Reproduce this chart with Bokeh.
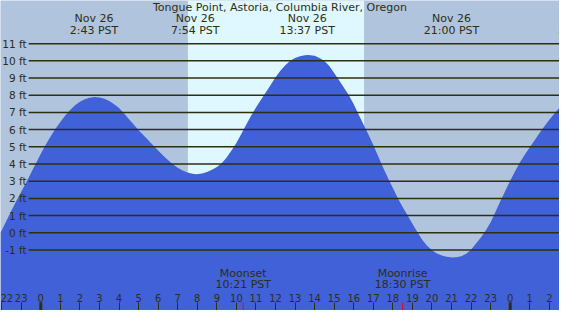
from bokeh.plotting import figure
from bokeh.models import Range1d, LinearAxis, FixedTicker
from bokeh.core.properties import value
from bokeh.embed import file_html
from bokeh.resources import INLINE

TITLE = "Tongue Point, Astoria, Columbia River, Oregon"

# tide height (ft), by hour of Nov 26 (PST)
tide_hours = [-2.06, -1.75, -1.50, -1.25, -1.00, -0.75, -0.50, -0.25, 0.00,
              0.25, 0.50, 0.75, 1.00, 1.25, 1.50, 1.75, 2.00, 2.25, 2.50, 2.74,
              3.00, 3.25, 3.50, 3.75, 4.00, 4.25, 4.50, 4.75, 5.00,
              5.25, 5.50, 5.75, 6.00, 6.25, 6.50, 6.75, 7.00, 7.25, 7.50, 7.75, 7.96,
              8.25, 8.50, 8.75, 9.00, 9.25, 9.50, 9.75, 10.00, 10.25, 10.50, 10.75,
              11.00, 11.25, 11.50, 11.75, 12.00, 12.25, 12.50, 12.75, 13.00, 13.25, 13.50, 13.68,
              14.00, 14.25, 14.50, 14.75, 15.00, 15.25, 15.50, 15.75, 16.00, 16.25, 16.50,
              16.75, 17.00, 17.25, 17.50, 17.75, 18.00, 18.25, 18.50, 18.75, 19.00, 19.25,
              19.50, 19.75, 20.00, 20.25, 20.50, 20.75, 21.05, 21.25, 21.50, 21.75,
              22.00, 22.25, 22.50, 22.75, 23.00, 23.25, 23.50, 23.75, 24.00,
              24.25, 24.50, 24.75, 25.00, 25.25, 25.50, 25.75, 26.00, 26.25, 26.52]
tide_ft = [0.00, 0.72, 1.30, 1.85, 2.38, 2.92, 3.48, 4.05, 4.60,
           5.12, 5.60, 6.05, 6.45, 6.82, 7.14, 7.42, 7.62, 7.77, 7.86, 7.90,
           7.87, 7.79, 7.66, 7.48, 7.26, 6.95, 6.62, 6.30, 5.97,
           5.67, 5.38, 5.08, 4.78, 4.50, 4.23, 3.98, 3.78, 3.62, 3.50, 3.43, 3.41,
           3.45, 3.53, 3.66, 3.83, 4.05, 4.38, 4.78, 5.22, 5.75, 6.28, 6.80,
           7.28, 7.72, 8.16, 8.60, 9.04, 9.42, 9.74, 10.00, 10.17, 10.27, 10.33, 10.34,
           10.29, 10.17, 9.99, 9.70, 9.30, 8.87, 8.43, 8.00, 7.47, 6.88, 6.30,
           5.72, 5.10, 4.45, 3.80, 3.18, 2.60, 2.03, 1.50, 1.02, 0.53, 0.05,
           -0.40, -0.75, -1.02, -1.20, -1.32, -1.40, -1.44, -1.43, -1.36, -1.22,
           -0.98, -0.62, -0.28, 0.13, 0.62, 1.22, 1.85, 2.45, 3.03,
           3.58, 4.10, 4.55, 4.97, 5.38, 5.80, 6.20, 6.57, 6.93, 7.27]

extreme_hours = [2.72, 7.90, 13.62, 21.00, 27.68]
extreme_dates = ["Nov 26", "Nov 26", "Nov 26", "Nov 26", "Nov 27"]
extreme_times = ["2:43 PST", "7:54 PST", "13:37 PST", "21:00 PST", "3:41 PST"]

moon_hours = [10.35, 18.50]
moon_events = ["Moonset", "Moonrise"]
moon_times = ["10:21 PST", "18:30 PST"]

sunrise_hour = 7.52
sunset_hour = 16.53

ft_levels = list(range(-1, 12))
hour_ticks = list(range(-2, 27))
hour_labels = [str(h % 24) for h in hour_ticks]
midnight_hours = [0, 24]

# layout / style
W, H = 559, 310
X0, X1 = -2.06, 26.52
Y0, Y1 = -4.52, 13.51
PX_Y = (Y1 - Y0) / H
LINE_X0 = -0.62
TITLE_Y, DATE_Y, TIME_Y = 13.12, 12.44, 11.76
MOON_Y, MOONT_Y = -2.36, -3.03

NIGHT = "#b0c4de"
DAY = "#dff8ff"
BLUE = "#4161d8"
INK = "#2e2e10"
FONT = value("DejaVu Sans")

p = figure(width=W, height=H, x_range=Range1d(X0, X1), y_range=Range1d(Y0, Y1),
           output_backend="svg", toolbar_location=None,
           x_axis_type=None, y_axis_type=None, min_border=0,
           outline_line_color=None, background_fill_color=NIGHT,
           border_fill_color=NIGHT)

p.quad(left=[sunrise_hour], right=[sunset_hour], bottom=[Y0], top=[Y1],
       fill_color=DAY, line_color=None)

p.varea(x=tide_hours, y1=[Y0] * len(tide_hours), y2=tide_ft, fill_color=BLUE)

p.segment(x0=[LINE_X0] * len(ft_levels), x1=[X1] * len(ft_levels),
          y0=ft_levels, y1=ft_levels, line_color=INK, line_width=1.5)

yax = LinearAxis(fixed_location=LINE_X0, ticker=FixedTicker(ticks=ft_levels),
                 major_label_overrides={v: f"{v} ft" for v in ft_levels},
                 axis_line_color=None, major_tick_line_color=None,
                 minor_tick_line_color=None, major_tick_in=0, major_tick_out=0,
                 major_label_standoff=2, major_label_text_font="DejaVu Sans",
                 major_label_text_font_size="10.5px", major_label_text_color=INK)
p.add_layout(yax, "left")

xax = LinearAxis(fixed_location=Y0, ticker=FixedTicker(ticks=hour_ticks),
                 major_label_overrides={h: s for h, s in zip(hour_ticks, hour_labels)},
                 axis_line_color=None, major_tick_line_color=INK,
                 major_tick_line_width=1, minor_tick_line_color=None,
                 major_tick_in=0, major_tick_out=8, major_label_standoff=1,
                 major_label_text_font="DejaVu Sans", major_label_text_font_size="10px",
                 major_label_text_color=INK)
p.add_layout(xax, "above")

p.segment(x0=midnight_hours, x1=midnight_hours, y0=[Y0] * 2, y1=[Y0 + 8 * PX_Y] * 2,
          line_color=INK, line_width=3)
p.segment(x0=moon_hours, x1=moon_hours, y0=[Y0] * 2, y1=[Y0 + 8 * PX_Y] * 2,
          line_color="#ff0000", line_width=1)

# the next day's extreme lies past the right edge; only its time row peeks in
n_vis = 4
txt = dict(text_font=FONT, text_font_size="11px", text_color=INK,
           text_align="center", text_baseline="middle")
p.text(x=[(X0 + X1) / 2], y=[TITLE_Y], text=[TITLE], **txt)
p.text(x=extreme_hours[:n_vis], y=[DATE_Y] * n_vis, text=extreme_dates[:n_vis], **txt)
p.text(x=extreme_hours, y=[TIME_Y] * len(extreme_hours), text=extreme_times, **txt)
p.text(x=moon_hours, y=[MOON_Y] * 2, text=moon_events, **txt)
p.text(x=moon_hours, y=[MOONT_Y] * 2, text=moon_times, **txt)

open("out.html", "w").write(file_html(p, INLINE))
